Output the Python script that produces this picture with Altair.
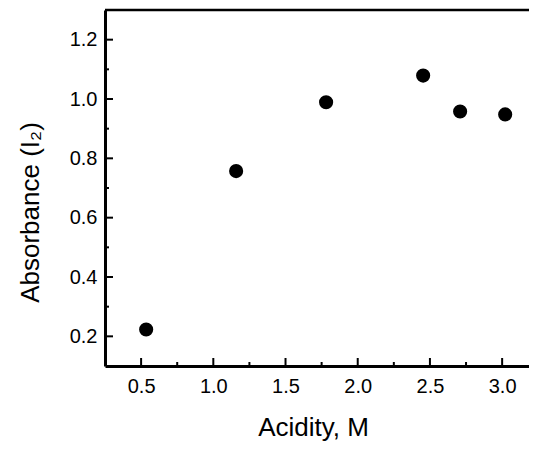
import altair as alt
import pandas as pd

# Data
acidity = [0.535, 1.158, 1.781, 2.453, 2.709, 3.021]
absorbance = [0.223, 0.757, 0.989, 1.079, 0.958, 0.948]

x_major = [0.5, 1.0, 1.5, 2.0, 2.5, 3.0]
x_minor = [0.75, 1.25, 1.75, 2.25, 2.75]
y_major = [0.2, 0.4, 0.6, 0.8, 1.0, 1.2]
y_minor = [0.3, 0.5, 0.7, 0.9, 1.1]

X_DOMAIN = [0.25, 3.186]
Y_DOMAIN = [0.1, 1.3]

W, H = 424, 356
FONT = "Liberation Sans"

df = pd.DataFrame({"x": acidity, "y": absorbance})

xs = alt.Scale(domain=X_DOMAIN, nice=False, zero=False)
ys = alt.Scale(domain=Y_DOMAIN, nice=False, zero=False)

x_axis = alt.Axis(
    values=x_major,
    format=".1f",
    title="Acidity, M",
    labelPadding=10,
    titleX=208,
    titleY=69,
    titleAlign="center",
    titleBaseline="alphabetic",
)
y_axis = alt.Axis(
    values=y_major,
    format=".1f",
    title="Absorbance (I₂)",
    labelPadding=8,
    titleX=-67,
    titleY=202,
    titleAngle=-90,
    titleAlign="center",
    titleBaseline="alphabetic",
)

points = alt.Chart(df).mark_circle(size=200, color="black", opacity=1).encode(
    x=alt.X("x:Q", scale=xs, axis=x_axis),
    y=alt.Y("y:Q", scale=ys, axis=y_axis),
)

# inward tick marks
y_major_ticks = alt.Chart(pd.DataFrame({"y": y_major})).mark_rule(
    color="black", strokeWidth=2
).encode(y=alt.Y("y:Q", scale=ys, axis=y_axis), x=alt.value(0), x2=alt.value(8))

y_minor_ticks = alt.Chart(pd.DataFrame({"y": y_minor})).mark_rule(
    color="black", strokeWidth=2
).encode(y=alt.Y("y:Q", scale=ys, axis=y_axis), x=alt.value(0), x2=alt.value(4))

x_major_ticks = alt.Chart(pd.DataFrame({"x": x_major})).mark_rule(
    color="black", strokeWidth=2
).encode(x=alt.X("x:Q", scale=xs, axis=x_axis), y=alt.value(H), y2=alt.value(H - 8))

x_minor_ticks = alt.Chart(pd.DataFrame({"x": x_minor})).mark_rule(
    color="black", strokeWidth=2
).encode(x=alt.X("x:Q", scale=xs, axis=x_axis), y=alt.value(H), y2=alt.value(H - 4))

top_line = alt.Chart(pd.DataFrame({"x": [0]})).mark_rule(
    color="black", strokeWidth=2.5
).encode(x=alt.value(0), x2=alt.value(W), y=alt.value(0))

chart = (
    alt.layer(points, y_major_ticks, y_minor_ticks, x_major_ticks, x_minor_ticks, top_line)
    .properties(
        width=W,
        height=H,
        autosize=alt.AutoSizeParams(type="none"),
        padding={"left": 97, "top": 2, "right": 0, "bottom": 75},
        background="white",
    )
    .configure_view(stroke=None)
    .configure_axis(
        grid=False,
        ticks=False,
        domainColor="black",
        domainWidth=3,
        labelFont=FONT,
        labelFontSize=20,
        labelColor="black",
        titleFont=FONT,
        titleFontSize=26,
        titleFontWeight="normal",
        titleColor="black",
    )
)

chart.save("out.html", embed_options={"renderer": "svg", "actions": False})
